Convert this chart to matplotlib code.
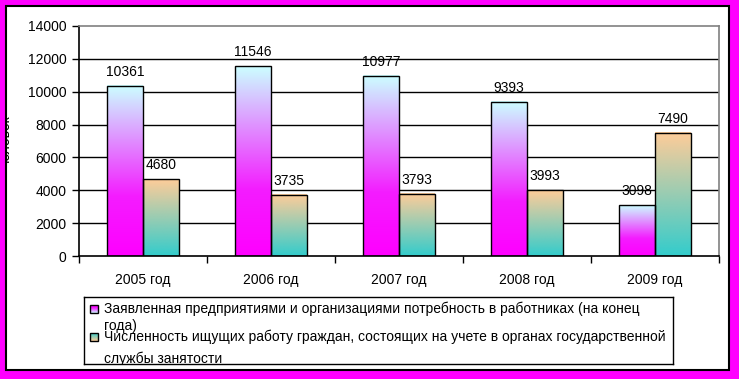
import numpy as np
import matplotlib
matplotlib.use('Agg')
import matplotlib.pyplot as plt
from matplotlib.colors import LinearSegmentedColormap
from matplotlib.patches import Rectangle

# data
years = ['2005 год', '2006 год', '2007 год', '2008 год', '2009 год']
demand = [10361, 11546, 10977, 9393, 3098]
job_seekers = [4680, 3735, 3793, 3993, 7490]
legend_lines = [
    ['Заявленная предприятиями и организациями потребность в работниках (на конец', 'года)'],
    ['Численность ищущих работу граждан, состоящих на учете в органах государственной', 'службы занятости'],
]
y_label = 'человек'

plt.rcParams['font.family'] = ['Liberation Sans', 'DejaVu Sans']
FS = 10

W, H = 739, 379
fig = plt.figure(figsize=(W / 100, H / 100), dpi=100)
fig.patch.set_facecolor('#ff00ff')


def fx(px):
    return px / W


def fy(py):
    return 1 - py / H


# white panel
panel = Rectangle((fx(6), fy(370)), fx(729) - fx(6), fy(6) - fy(370),
                  transform=fig.transFigure, facecolor='white',
                  edgecolor='black', lw=1.5, zorder=-5)
fig.patches.append(panel)

cmap1 = LinearSegmentedColormap.from_list('c1', [(0, '#ff00ff'), (0.35, '#f41cff'), (1, '#ccffff')])
cmap2 = LinearSegmentedColormap.from_list('c2', [(0, '#33cccc'), (1, '#ffcc99')])
grad = np.linspace(0, 1, 256).reshape(-1, 1)

ax = fig.add_axes([fx(79), fy(256), fx(719) - fx(79), fy(26) - fy(256)])
ax.set_facecolor('none')

x = np.arange(len(years))
w = 0.28
for series, off, cm in [(demand, -w / 2, cmap1), (job_seekers, w / 2, cmap2)]:
    bars = ax.bar(x + off, series, w, facecolor='none', edgecolor='black', lw=1, zorder=3)
    for b, v in zip(bars, series):
        ax.imshow(grad, cmap=cm, origin='lower', aspect='auto', zorder=2,
                  extent=(b.get_x(), b.get_x() + b.get_width(), 0, v))
        ax.annotate(str(v), (b.get_x() + b.get_width() / 2, v), xytext=(0, 5),
                    textcoords='offset points', ha='center', va='bottom', fontsize=FS)

ax.set_xlim(-0.5, len(years) - 0.5)
ax.set_ylim(0, 14000)
ax.set_yticks(np.arange(0, 14001, 2000))
for yv in np.arange(2000, 14000, 2000):
    ax.axhline(yv, color='black', lw=1, zorder=1)
ax.set_xticks(x)
ax.set_xticklabels(years, fontsize=FS)
ax.set_xticks(np.arange(-0.5, len(years)), minor=True)
ax.tick_params(axis='x', which='major', length=0, pad=12)
ax.tick_params(axis='x', which='minor', length=5, direction='out', width=1)
ax.tick_params(axis='y', length=5, width=1, pad=4, labelsize=FS)
ax.spines['top'].set_color('#808080')
ax.spines['right'].set_color('#808080')
for s in ax.spines.values():
    s.set_linewidth(1.2)

yl = fig.text(fx(5), fy(141), y_label, rotation=90, ha='center', va='center', fontsize=FS)
yl.set_clip_path(panel)

# legend
lx0, ly0, lx1, ly1 = 84, 297, 673, 364
lax = fig.add_axes([fx(lx0), fy(ly1), fx(lx1) - fx(lx0), fy(ly0) - fy(ly1)])
lax.set_xticks([])
lax.set_yticks([])
for s in lax.spines.values():
    s.set_linewidth(1)
    s.set_color('black')

baselines = [(16, 33), (44, 66)]
markers = [12, 40]
for lines, bl, my, cm in zip(legend_lines, baselines, markers, [cmap1, cmap2]):
    lax.imshow(grad, cmap=cm, origin='upper', aspect='auto',
               extent=(6, 14, my + 4, my - 4), zorder=2)
    lax.add_patch(Rectangle((6, my - 4), 8, 8, facecolor='none', edgecolor='black', lw=1, zorder=3))
    for line, b in zip(lines, bl):
        lax.text(20, b, line, fontsize=FS, ha='left', va='baseline', clip_on=True)
lax.set_xlim(0, lx1 - lx0)
lax.set_ylim(ly1 - ly0, 0)

fig.savefig('out.png', dpi=100, facecolor=fig.get_facecolor())
